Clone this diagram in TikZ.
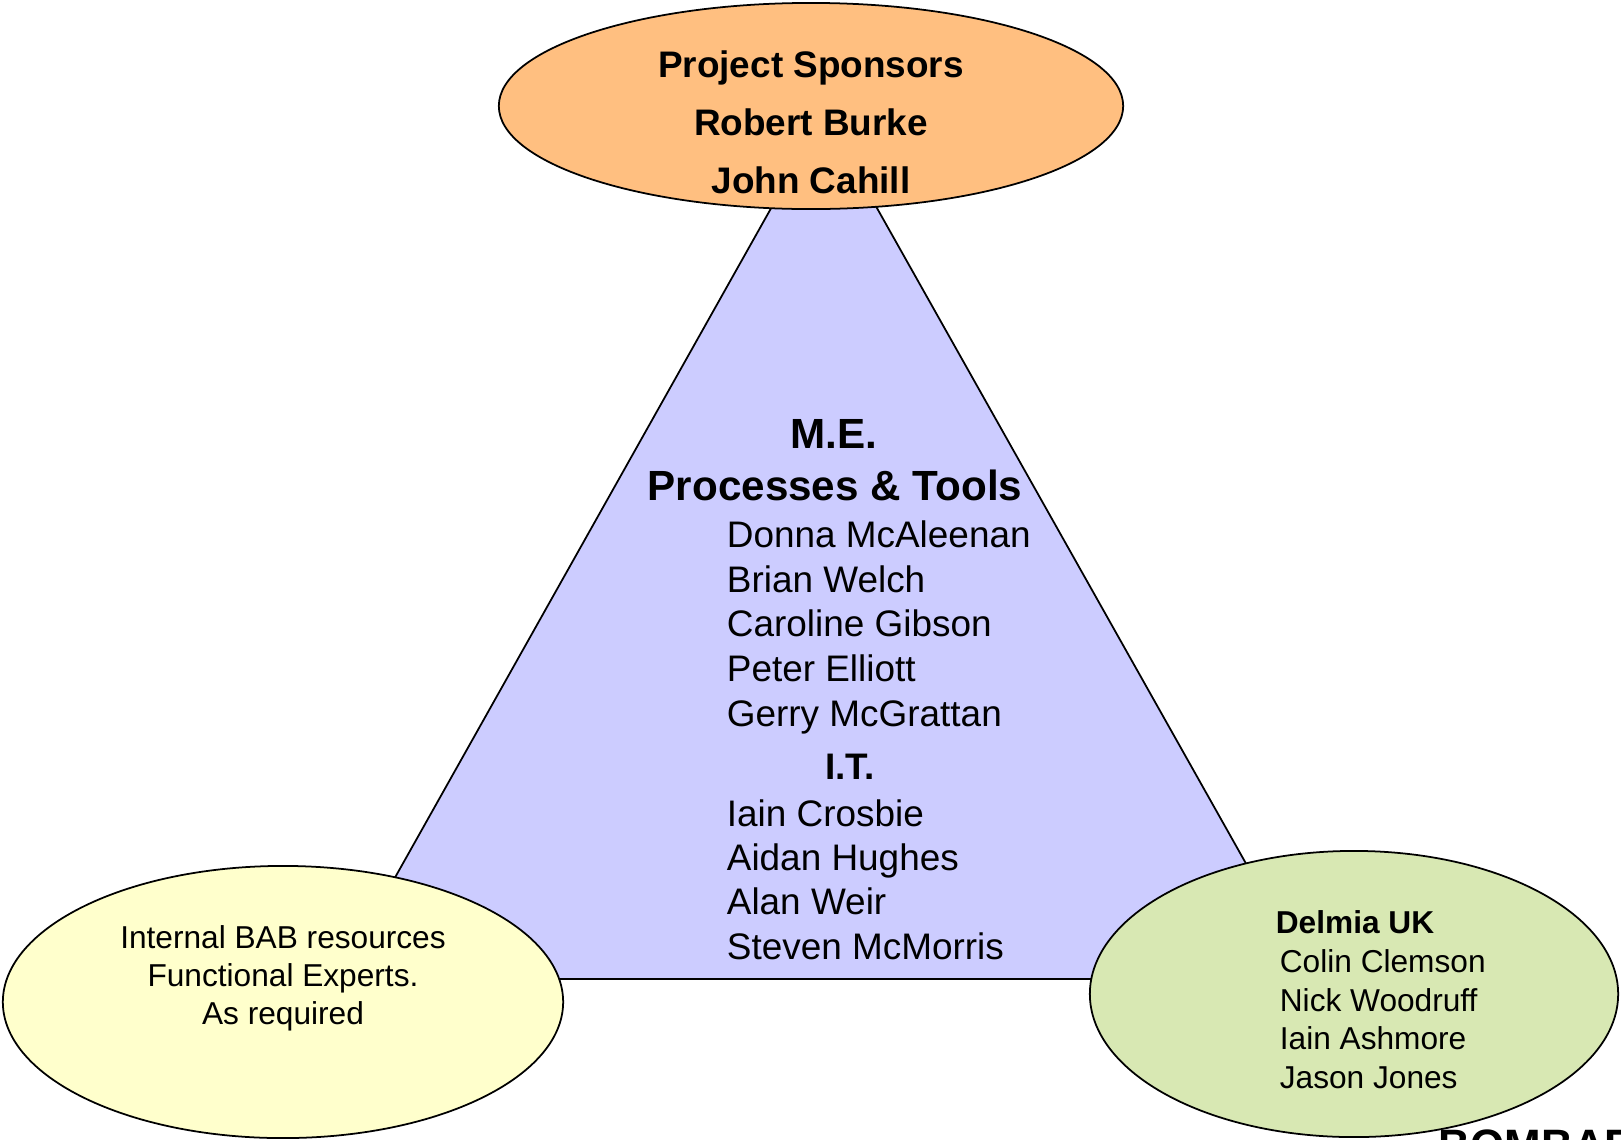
\documentclass[tikz,border=0pt]{standalone}
\usepackage{fontspec}
\setmainfont{Liberation Sans}
\usetikzlibrary{shapes.geometric}
\definecolor{sponsor}{HTML}{FFBF80}
\definecolor{lavender}{HTML}{CCCCFF}
\definecolor{paleyellow}{HTML}{FFFFCC}
\definecolor{palegreen}{HTML}{D8E8B3}

\begin{document}
\begin{tikzpicture}[x=0.01cm, y=-0.01cm, line width=0.5pt]
\useasboundingbox (0,0) rectangle (1621,1139);

% triangle behind the ellipses
\coordinate (apex) at (824,114);
\coordinate (left) at (338,979);
\coordinate (right) at (1311,979);
\filldraw [fill=lavender, draw=black] (apex) -- (left) -- (right) -- cycle;

\tikzstyle{every node}=[ellipse, draw=black, inner sep=0pt]
\draw    (811, 106)  node [fill=sponsor, minimum width=6.24cm, minimum height=2.06cm] (spons) {}
         (283, 1002) node [fill=paleyellow, minimum width=5.6cm, minimum height=2.72cm] (bab) {}
         (1354, 994) node [fill=palegreen, minimum width=5.28cm, minimum height=2.86cm] (delmia) {};

\tikzstyle{every node}=[inner sep=0pt, anchor=mid, font=\fontsize{10.5}{12}\selectfont\bfseries]
\draw    (811, 68)  node (sp1) {Project Sponsors}
         (811, 126) node (sp2) {Robert Burke}
         (811, 184) node (sp3) {John Cahill};

\tikzstyle{every node}=[inner sep=0pt, anchor=mid, font=\fontsize{12}{14}\selectfont\bfseries]
\draw    (834, 439) node (me) {M.E.}
         (835, 491) node (proc) {Processes \& Tools};

\tikzstyle{every node}=[inner sep=0pt, anchor=mid, font=\fontsize{10.5}{12}\selectfont\bfseries]
\draw    (850, 770) node (it) {I.T.};

\tikzstyle{every node}=[inner sep=0pt, anchor=mid west, font=\fontsize{10.5}{12}\selectfont]
\draw    (726, 538) node (me1) {Donna McAleenan}
         (726, 583) node (me2) {Brian Welch}
         (726, 627) node (me3) {Caroline Gibson}
         (726, 672) node (me4) {Peter Elliott}
         (726, 717) node (me5) {Gerry McGrattan}
         (726, 817) node (it1) {Iain Crosbie}
         (726, 861) node (it2) {Aidan Hughes}
         (726, 905) node (it3) {Alan Weir}
         (726, 950) node (it4) {Steven McMorris};

\tikzstyle{every node}=[inner sep=0pt, anchor=mid, font=\fontsize{9}{11}\selectfont]
\draw    (283, 939)  node (bab1) {Internal BAB resources}
         (283, 977)  node (bab2) {Functional Experts.}
         (283, 1015) node (bab3) {As required};

\tikzstyle{every node}=[inner sep=0pt, anchor=mid west, font=\fontsize{9}{11}\selectfont]
\draw    (1275, 924)  node [font=\fontsize{9}{11}\selectfont\bfseries] (dl0) {Delmia UK}
         (1279, 963)  node (dl1) {Colin Clemson}
         (1279, 1002) node (dl2) {Nick Woodruff}
         (1279, 1040) node (dl3) {Iain Ashmore}
         (1279, 1079) node (dl4) {Jason Jones};

% logo cut off by the page edge
\begin{scope}
\clip (0,0) rectangle (1621,1139);
\node [inner sep=0pt, anchor=north west, font=\fontsize{12.5}{14}\selectfont\bfseries] (logo) at (1438,1129) {BOMBAR};
\end{scope}

\end{tikzpicture}
\end{document}
